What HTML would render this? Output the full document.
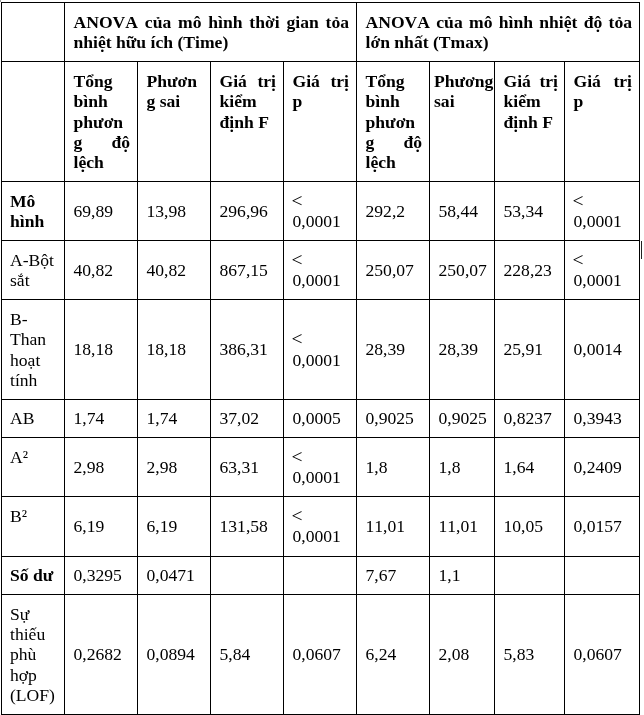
<!DOCTYPE html>
<html lang="vi"><head><meta charset="utf-8"><title>ANOVA</title>
<style>
html,body{margin:0;padding:0;background:#fff;}
body{width:644px;height:715px;position:relative;overflow:hidden;
 font-family:"Liberation Serif",serif;font-size:17.6px;line-height:20.3px;color:#000;font-kerning:none;font-variant-ligatures:none;}
.h,.v{position:absolute;background:#000;}
.c{position:absolute;box-sizing:border-box;padding:0 7px 0 8.5px;display:flex;align-items:center;
 text-align:justify;overflow-wrap:anywhere;word-break:break-word;}
.c>div{width:100%;}
.b{font-weight:bold;}
.t{align-items:flex-start;}
.lt{font-size:19.5px;line-height:0;margin-left:-1px;}
.n{white-space:nowrap;text-align:left;}
#w{position:absolute;left:0;top:0;width:644px;height:715px;will-change:transform;}
</style></head><body><div id="w">
<div style="position:absolute;left:0;top:0;width:1px;height:2px;background:#999"></div>
<div style="position:absolute;left:641px;top:241px;width:1px;height:18px;background:#222"></div>

<div class="h" style="left:1px;top:2px;width:639px;height:1px"></div>
<div class="h" style="left:1px;top:61px;width:639px;height:1px"></div>
<div class="h" style="left:1px;top:181px;width:639px;height:1px"></div>
<div class="h" style="left:1px;top:240px;width:639px;height:1px"></div>
<div class="h" style="left:1px;top:299px;width:639px;height:1px"></div>
<div class="h" style="left:1px;top:399px;width:639px;height:1px"></div>
<div class="h" style="left:1px;top:437px;width:639px;height:1px"></div>
<div class="h" style="left:1px;top:496px;width:639px;height:1px"></div>
<div class="h" style="left:1px;top:556px;width:639px;height:1px"></div>
<div class="h" style="left:1px;top:594px;width:639px;height:1px"></div>
<div class="h" style="left:1px;top:714px;width:639px;height:1px"></div>
<div class="v" style="left:1px;top:2px;width:1px;height:713px"></div>
<div class="v" style="left:64px;top:2px;width:1px;height:713px"></div>
<div class="v" style="left:137px;top:61px;width:1px;height:654px"></div>
<div class="v" style="left:210px;top:61px;width:1px;height:654px"></div>
<div class="v" style="left:283px;top:61px;width:1px;height:654px"></div>
<div class="v" style="left:356px;top:2px;width:1px;height:713px"></div>
<div class="v" style="left:429px;top:61px;width:1px;height:654px"></div>
<div class="v" style="left:494px;top:61px;width:1px;height:654px"></div>
<div class="v" style="left:564px;top:61px;width:1px;height:654px"></div>
<div class="v" style="left:639px;top:2px;width:1px;height:713px"></div>
<div class="c b" style="left:65px;top:3px;width:291px;height:58px;"><div>ANOVA của mô hình thời gian tỏa nhiệt hữu ích (Time)</div></div>
<div class="c b" style="left:357px;top:3px;width:282px;height:58px;"><div>ANOVA của mô hình nhiệt độ tỏa lớn nhất (Tmax)</div></div>
<div class="c b t" style="left:65px;top:62px;width:72px;height:119px;padding-top:9px;"><div>Tổng bình phương độ lệch</div></div>
<div class="c b t" style="left:138px;top:62px;width:72px;height:119px;padding-top:9px;"><div>Phương sai</div></div>
<div class="c b t" style="left:211px;top:62px;width:72px;height:119px;padding-top:9px;"><div>Giá trị kiểm định F</div></div>
<div class="c b t" style="left:284px;top:62px;width:72px;height:119px;padding-top:9px;"><div>Giá trị p</div></div>
<div class="c b t" style="left:357px;top:62px;width:72px;height:119px;padding-top:9px;"><div>Tổng bình phương độ lệch</div></div>
<div class="c b t" style="left:430px;top:62px;width:64px;height:119px;padding-left:4px;padding-right:0;overflow-wrap:normal;word-break:normal;white-space:nowrap;padding-top:9px;"><div>Phương<br>sai</div></div>
<div class="c b t" style="left:495px;top:62px;width:69px;height:119px;padding-right:6px;padding-top:9px;"><div>Giá trị kiểm định F</div></div>
<div class="c b t" style="left:565px;top:62px;width:74px;height:119px;padding-top:9px;"><div>Giá trị p</div></div>
<div class="c b" style="left:2px;top:182px;width:62px;height:58px;padding-left:8px;"><div>Mô hình</div></div>
<div class="c n" style="left:65px;top:182px;width:72px;height:58px;"><div>69,89</div></div>
<div class="c n" style="left:138px;top:182px;width:72px;height:58px;"><div>13,98</div></div>
<div class="c n" style="left:211px;top:182px;width:72px;height:58px;"><div>296,96</div></div>
<div class="c n" style="left:284px;top:182px;width:72px;height:58px;"><div><span class="lt">&lt;</span><br>0,0001</div></div>
<div class="c n" style="left:357px;top:182px;width:72px;height:58px;"><div>292,2</div></div>
<div class="c n" style="left:430px;top:182px;width:64px;height:58px;"><div>58,44</div></div>
<div class="c n" style="left:495px;top:182px;width:69px;height:58px;"><div>53,34</div></div>
<div class="c n" style="left:565px;top:182px;width:74px;height:58px;"><div><span class="lt">&lt;</span><br>0,0001</div></div>
<div class="c " style="left:2px;top:241px;width:62px;height:58px;padding-left:8px;"><div>A-Bột sắt</div></div>
<div class="c n" style="left:65px;top:241px;width:72px;height:58px;"><div>40,82</div></div>
<div class="c n" style="left:138px;top:241px;width:72px;height:58px;"><div>40,82</div></div>
<div class="c n" style="left:211px;top:241px;width:72px;height:58px;"><div>867,15</div></div>
<div class="c n" style="left:284px;top:241px;width:72px;height:58px;"><div><span class="lt">&lt;</span><br>0,0001</div></div>
<div class="c n" style="left:357px;top:241px;width:72px;height:58px;"><div>250,07</div></div>
<div class="c n" style="left:430px;top:241px;width:64px;height:58px;"><div>250,07</div></div>
<div class="c n" style="left:495px;top:241px;width:69px;height:58px;"><div>228,23</div></div>
<div class="c n" style="left:565px;top:241px;width:74px;height:58px;"><div><span class="lt">&lt;</span><br>0,0001</div></div>
<div class="c " style="left:2px;top:300px;width:62px;height:99px;padding-left:8px;"><div>B- Than hoạt tính</div></div>
<div class="c n" style="left:65px;top:300px;width:72px;height:99px;"><div>18,18</div></div>
<div class="c n" style="left:138px;top:300px;width:72px;height:99px;"><div>18,18</div></div>
<div class="c n" style="left:211px;top:300px;width:72px;height:99px;"><div>386,31</div></div>
<div class="c n" style="left:284px;top:300px;width:72px;height:99px;"><div><span class="lt">&lt;</span><br>0,0001</div></div>
<div class="c n" style="left:357px;top:300px;width:72px;height:99px;"><div>28,39</div></div>
<div class="c n" style="left:430px;top:300px;width:64px;height:99px;"><div>28,39</div></div>
<div class="c n" style="left:495px;top:300px;width:69px;height:99px;"><div>25,91</div></div>
<div class="c n" style="left:565px;top:300px;width:74px;height:99px;"><div>0,0014</div></div>
<div class="c " style="left:2px;top:400px;width:62px;height:37px;padding-left:8px;"><div>AB</div></div>
<div class="c n" style="left:65px;top:400px;width:72px;height:37px;"><div>1,74</div></div>
<div class="c n" style="left:138px;top:400px;width:72px;height:37px;"><div>1,74</div></div>
<div class="c n" style="left:211px;top:400px;width:72px;height:37px;"><div>37,02</div></div>
<div class="c n" style="left:284px;top:400px;width:72px;height:37px;"><div>0,0005</div></div>
<div class="c n" style="left:357px;top:400px;width:72px;height:37px;"><div>0,9025</div></div>
<div class="c n" style="left:430px;top:400px;width:64px;height:37px;"><div>0,9025</div></div>
<div class="c n" style="left:495px;top:400px;width:69px;height:37px;"><div>0,8237</div></div>
<div class="c n" style="left:565px;top:400px;width:74px;height:37px;"><div>0,3943</div></div>
<div class="c " style="left:2px;top:438px;width:62px;height:58px;padding-left:8px;"><div>A²<br>&nbsp;</div></div>
<div class="c n" style="left:65px;top:438px;width:72px;height:58px;"><div>2,98</div></div>
<div class="c n" style="left:138px;top:438px;width:72px;height:58px;"><div>2,98</div></div>
<div class="c n" style="left:211px;top:438px;width:72px;height:58px;"><div>63,31</div></div>
<div class="c n" style="left:284px;top:438px;width:72px;height:58px;"><div><span class="lt">&lt;</span><br>0,0001</div></div>
<div class="c n" style="left:357px;top:438px;width:72px;height:58px;"><div>1,8</div></div>
<div class="c n" style="left:430px;top:438px;width:64px;height:58px;"><div>1,8</div></div>
<div class="c n" style="left:495px;top:438px;width:69px;height:58px;"><div>1,64</div></div>
<div class="c n" style="left:565px;top:438px;width:74px;height:58px;"><div>0,2409</div></div>
<div class="c " style="left:2px;top:497px;width:62px;height:59px;padding-left:8px;padding-bottom:1px;"><div>B²<br>&nbsp;</div></div>
<div class="c n" style="left:65px;top:497px;width:72px;height:59px;padding-bottom:1px;"><div>6,19</div></div>
<div class="c n" style="left:138px;top:497px;width:72px;height:59px;padding-bottom:1px;"><div>6,19</div></div>
<div class="c n" style="left:211px;top:497px;width:72px;height:59px;padding-bottom:1px;"><div>131,58</div></div>
<div class="c n" style="left:284px;top:497px;width:72px;height:59px;padding-bottom:1px;"><div><span class="lt">&lt;</span><br>0,0001</div></div>
<div class="c n" style="left:357px;top:497px;width:72px;height:59px;padding-bottom:1px;"><div>11,01</div></div>
<div class="c n" style="left:430px;top:497px;width:64px;height:59px;padding-bottom:1px;"><div>11,01</div></div>
<div class="c n" style="left:495px;top:497px;width:69px;height:59px;padding-bottom:1px;"><div>10,05</div></div>
<div class="c n" style="left:565px;top:497px;width:74px;height:59px;padding-bottom:1px;"><div>0,0157</div></div>
<div class="c b" style="left:2px;top:557px;width:62px;height:37px;padding-left:8px;"><div>Số dư</div></div>
<div class="c n" style="left:65px;top:557px;width:72px;height:37px;"><div>0,3295</div></div>
<div class="c n" style="left:138px;top:557px;width:72px;height:37px;"><div>0,0471</div></div>
<div class="c n" style="left:357px;top:557px;width:72px;height:37px;"><div>7,67</div></div>
<div class="c n" style="left:430px;top:557px;width:64px;height:37px;"><div>1,1</div></div>
<div class="c " style="left:2px;top:595px;width:62px;height:119px;padding-left:8px;"><div>Sự thiếu phù hợp (LOF)</div></div>
<div class="c n" style="left:65px;top:595px;width:72px;height:119px;"><div>0,2682</div></div>
<div class="c n" style="left:138px;top:595px;width:72px;height:119px;"><div>0,0894</div></div>
<div class="c n" style="left:211px;top:595px;width:72px;height:119px;"><div>5,84</div></div>
<div class="c n" style="left:284px;top:595px;width:72px;height:119px;"><div>0,0607</div></div>
<div class="c n" style="left:357px;top:595px;width:72px;height:119px;"><div>6,24</div></div>
<div class="c n" style="left:430px;top:595px;width:64px;height:119px;"><div>2,08</div></div>
<div class="c n" style="left:495px;top:595px;width:69px;height:119px;"><div>5,83</div></div>
<div class="c n" style="left:565px;top:595px;width:74px;height:119px;"><div>0,0607</div></div>
</div></body></html>
